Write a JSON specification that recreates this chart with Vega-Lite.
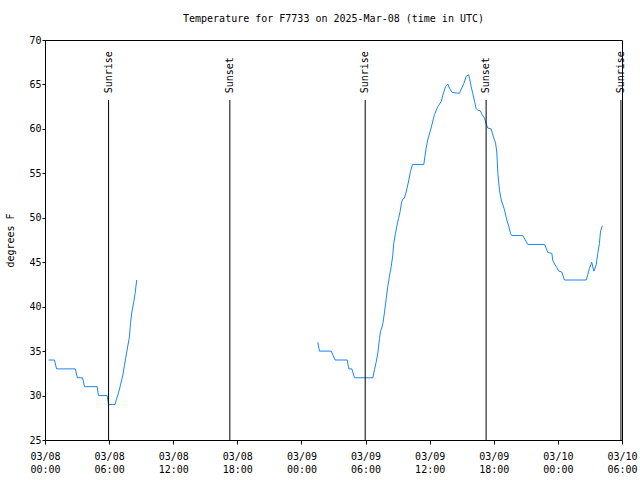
{
  "$schema": "https://vega.github.io/schema/vega-lite/v6.json",
  "width": 577,
  "height": 400,
  "autosize": {"type": "none"},
  "padding": {"left": 45, "top": 40, "right": 18, "bottom": 40},
  "title": {"text": "Temperature for F7733 on 2025-Mar-08 (time in UTC)", "font": "DejaVu Sans Mono", "fontSize": 10, "fontWeight": "normal", "color": "black", "anchor": "middle", "offset": 11},
  "config": {
    "view": {"stroke": "black", "strokeWidth": 1},
    "axis": {"labelFont": "DejaVu Sans Mono", "labelFontSize": 10, "labelColor": "black", "tickColor": "black", "domain": false, "grid": false, "titleFont": "DejaVu Sans Mono", "titleFontWeight": "normal", "titleFontSize": 10, "titleColor": "black", "labelFlush": false, "labelOverlap": false}
  },
  "layer": [
    {
      "data": {"values": [
      {"t": "2025-03-08T00:20:00Z", "temp": 34, "seg": "a"},
      {"t": "2025-03-08T00:53:00Z", "temp": 34, "seg": "a"},
      {"t": "2025-03-08T01:05:00Z", "temp": 33, "seg": "a"},
      {"t": "2025-03-08T02:50:00Z", "temp": 33, "seg": "a"},
      {"t": "2025-03-08T03:02:00Z", "temp": 32, "seg": "a"},
      {"t": "2025-03-08T03:31:00Z", "temp": 32, "seg": "a"},
      {"t": "2025-03-08T03:42:00Z", "temp": 31, "seg": "a"},
      {"t": "2025-03-08T04:53:00Z", "temp": 31, "seg": "a"},
      {"t": "2025-03-08T05:00:00Z", "temp": 30, "seg": "a"},
      {"t": "2025-03-08T05:49:00Z", "temp": 30, "seg": "a"},
      {"t": "2025-03-08T05:57:00Z", "temp": 29, "seg": "a"},
      {"t": "2025-03-08T06:34:00Z", "temp": 29, "seg": "a"},
      {"t": "2025-03-08T06:40:00Z", "temp": 29.5, "seg": "a"},
      {"t": "2025-03-08T06:53:00Z", "temp": 30.3, "seg": "a"},
      {"t": "2025-03-08T07:04:00Z", "temp": 31.2, "seg": "a"},
      {"t": "2025-03-08T07:17:00Z", "temp": 32.3, "seg": "a"},
      {"t": "2025-03-08T07:26:00Z", "temp": 33.4, "seg": "a"},
      {"t": "2025-03-08T07:39:00Z", "temp": 34.9, "seg": "a"},
      {"t": "2025-03-08T07:54:00Z", "temp": 36.6, "seg": "a"},
      {"t": "2025-03-08T08:00:00Z", "temp": 38.1, "seg": "a"},
      {"t": "2025-03-08T08:07:00Z", "temp": 39.3, "seg": "a"},
      {"t": "2025-03-08T08:19:00Z", "temp": 40.6, "seg": "a"},
      {"t": "2025-03-08T08:26:00Z", "temp": 41.5, "seg": "a"},
      {"t": "2025-03-08T08:35:00Z", "temp": 43, "seg": "a"},
      {"t": "2025-03-09T01:32:00Z", "temp": 36, "seg": "b"},
      {"t": "2025-03-09T01:41:00Z", "temp": 35, "seg": "b"},
      {"t": "2025-03-09T02:47:00Z", "temp": 35, "seg": "b"},
      {"t": "2025-03-09T03:09:00Z", "temp": 34, "seg": "b"},
      {"t": "2025-03-09T04:17:00Z", "temp": 34, "seg": "b"},
      {"t": "2025-03-09T04:26:00Z", "temp": 33, "seg": "b"},
      {"t": "2025-03-09T04:43:00Z", "temp": 33, "seg": "b"},
      {"t": "2025-03-09T04:58:00Z", "temp": 32, "seg": "b"},
      {"t": "2025-03-09T06:41:00Z", "temp": 32, "seg": "b"},
      {"t": "2025-03-09T06:50:00Z", "temp": 32.9, "seg": "b"},
      {"t": "2025-03-09T07:00:00Z", "temp": 33.8, "seg": "b"},
      {"t": "2025-03-09T07:09:00Z", "temp": 34.8, "seg": "b"},
      {"t": "2025-03-09T07:18:00Z", "temp": 36.4, "seg": "b"},
      {"t": "2025-03-09T07:24:00Z", "temp": 37.2, "seg": "b"},
      {"t": "2025-03-09T07:31:00Z", "temp": 37.6, "seg": "b"},
      {"t": "2025-03-09T07:37:00Z", "temp": 38.1, "seg": "b"},
      {"t": "2025-03-09T07:46:00Z", "temp": 39.3, "seg": "b"},
      {"t": "2025-03-09T07:56:00Z", "temp": 40.9, "seg": "b"},
      {"t": "2025-03-09T08:05:00Z", "temp": 42.3, "seg": "b"},
      {"t": "2025-03-09T08:14:00Z", "temp": 43.4, "seg": "b"},
      {"t": "2025-03-09T08:24:00Z", "temp": 44.5, "seg": "b"},
      {"t": "2025-03-09T08:33:00Z", "temp": 45.8, "seg": "b"},
      {"t": "2025-03-09T08:38:00Z", "temp": 47.1, "seg": "b"},
      {"t": "2025-03-09T08:48:00Z", "temp": 48.25, "seg": "b"},
      {"t": "2025-03-09T08:55:00Z", "temp": 49, "seg": "b"},
      {"t": "2025-03-09T09:05:00Z", "temp": 49.9, "seg": "b"},
      {"t": "2025-03-09T09:14:00Z", "temp": 50.7, "seg": "b"},
      {"t": "2025-03-09T09:23:00Z", "temp": 51.8, "seg": "b"},
      {"t": "2025-03-09T09:29:00Z", "temp": 52.1, "seg": "b"},
      {"t": "2025-03-09T09:38:00Z", "temp": 52.2, "seg": "b"},
      {"t": "2025-03-09T09:48:00Z", "temp": 52.9, "seg": "b"},
      {"t": "2025-03-09T09:57:00Z", "temp": 53.7, "seg": "b"},
      {"t": "2025-03-09T10:03:00Z", "temp": 54.25, "seg": "b"},
      {"t": "2025-03-09T10:12:00Z", "temp": 55.2, "seg": "b"},
      {"t": "2025-03-09T10:24:00Z", "temp": 56, "seg": "b"},
      {"t": "2025-03-09T11:27:00Z", "temp": 56, "seg": "b"},
      {"t": "2025-03-09T11:40:00Z", "temp": 57.8, "seg": "b"},
      {"t": "2025-03-09T11:49:00Z", "temp": 58.75, "seg": "b"},
      {"t": "2025-03-09T12:08:00Z", "temp": 60.1, "seg": "b"},
      {"t": "2025-03-09T12:27:00Z", "temp": 61.6, "seg": "b"},
      {"t": "2025-03-09T12:37:00Z", "temp": 62.1, "seg": "b"},
      {"t": "2025-03-09T12:46:00Z", "temp": 62.5, "seg": "b"},
      {"t": "2025-03-09T13:05:00Z", "temp": 63.1, "seg": "b"},
      {"t": "2025-03-09T13:14:00Z", "temp": 63.8, "seg": "b"},
      {"t": "2025-03-09T13:29:00Z", "temp": 64.75, "seg": "b"},
      {"t": "2025-03-09T13:42:00Z", "temp": 65.05, "seg": "b"},
      {"t": "2025-03-09T13:51:00Z", "temp": 64.6, "seg": "b"},
      {"t": "2025-03-09T14:06:00Z", "temp": 64.1, "seg": "b"},
      {"t": "2025-03-09T14:47:00Z", "temp": 64, "seg": "b"},
      {"t": "2025-03-09T15:00:00Z", "temp": 64.6, "seg": "b"},
      {"t": "2025-03-09T15:12:00Z", "temp": 65.1, "seg": "b"},
      {"t": "2025-03-09T15:25:00Z", "temp": 65.9, "seg": "b"},
      {"t": "2025-03-09T15:38:00Z", "temp": 66.1, "seg": "b"},
      {"t": "2025-03-09T15:44:00Z", "temp": 65.7, "seg": "b"},
      {"t": "2025-03-09T15:53:00Z", "temp": 64.75, "seg": "b"},
      {"t": "2025-03-09T16:02:00Z", "temp": 64, "seg": "b"},
      {"t": "2025-03-09T16:12:00Z", "temp": 63.1, "seg": "b"},
      {"t": "2025-03-09T16:21:00Z", "temp": 62.3, "seg": "b"},
      {"t": "2025-03-09T16:30:00Z", "temp": 62.1, "seg": "b"},
      {"t": "2025-03-09T16:44:00Z", "temp": 62.05, "seg": "b"},
      {"t": "2025-03-09T16:55:00Z", "temp": 61.6, "seg": "b"},
      {"t": "2025-03-09T17:08:00Z", "temp": 61.2, "seg": "b"},
      {"t": "2025-03-09T17:17:00Z", "temp": 60.6, "seg": "b"},
      {"t": "2025-03-09T17:26:00Z", "temp": 60.1, "seg": "b"},
      {"t": "2025-03-09T17:45:00Z", "temp": 60, "seg": "b"},
      {"t": "2025-03-09T17:58:00Z", "temp": 59.1, "seg": "b"},
      {"t": "2025-03-09T18:10:00Z", "temp": 58.4, "seg": "b"},
      {"t": "2025-03-09T18:17:00Z", "temp": 57.4, "seg": "b"},
      {"t": "2025-03-09T18:23:00Z", "temp": 55, "seg": "b"},
      {"t": "2025-03-09T18:32:00Z", "temp": 53.1, "seg": "b"},
      {"t": "2025-03-09T18:42:00Z", "temp": 52, "seg": "b"},
      {"t": "2025-03-09T19:00:00Z", "temp": 50.9, "seg": "b"},
      {"t": "2025-03-09T19:13:00Z", "temp": 49.75, "seg": "b"},
      {"t": "2025-03-09T19:25:00Z", "temp": 49, "seg": "b"},
      {"t": "2025-03-09T19:34:00Z", "temp": 48.25, "seg": "b"},
      {"t": "2025-03-09T19:41:00Z", "temp": 48, "seg": "b"},
      {"t": "2025-03-09T20:43:00Z", "temp": 48, "seg": "b"},
      {"t": "2025-03-09T21:11:00Z", "temp": 47, "seg": "b"},
      {"t": "2025-03-09T22:45:00Z", "temp": 47, "seg": "b"},
      {"t": "2025-03-09T22:54:00Z", "temp": 46.6, "seg": "b"},
      {"t": "2025-03-09T23:03:00Z", "temp": 46.1, "seg": "b"},
      {"t": "2025-03-09T23:26:00Z", "temp": 46, "seg": "b"},
      {"t": "2025-03-09T23:31:00Z", "temp": 45.25, "seg": "b"},
      {"t": "2025-03-09T23:41:00Z", "temp": 44.8, "seg": "b"},
      {"t": "2025-03-09T23:54:00Z", "temp": 44.4, "seg": "b"},
      {"t": "2025-03-10T00:05:00Z", "temp": 44, "seg": "b"},
      {"t": "2025-03-10T00:22:00Z", "temp": 43.9, "seg": "b"},
      {"t": "2025-03-10T00:37:00Z", "temp": 43, "seg": "b"},
      {"t": "2025-03-10T02:39:00Z", "temp": 43, "seg": "b"},
      {"t": "2025-03-10T02:48:00Z", "temp": 43.6, "seg": "b"},
      {"t": "2025-03-10T02:57:00Z", "temp": 44.3, "seg": "b"},
      {"t": "2025-03-10T03:10:00Z", "temp": 45, "seg": "b"},
      {"t": "2025-03-10T03:22:00Z", "temp": 44, "seg": "b"},
      {"t": "2025-03-10T03:35:00Z", "temp": 44.7, "seg": "b"},
      {"t": "2025-03-10T03:44:00Z", "temp": 46, "seg": "b"},
      {"t": "2025-03-10T03:53:00Z", "temp": 47.1, "seg": "b"},
      {"t": "2025-03-10T03:59:00Z", "temp": 48.4, "seg": "b"},
      {"t": "2025-03-10T04:09:00Z", "temp": 49.1, "seg": "b"}
      ]},
      "mark": {"type": "line", "strokeWidth": 1, "color": "#1C86EE"},
      "encoding": {
        "x": {
          "field": "t", "type": "temporal",
          "scale": {"type": "utc", "domain": [1741392000000, 1741586400000]},
          "axis": {
            "orient": "bottom", "title": null,
            "values": [1741392000000, 1741413600000, 1741435200000, 1741456800000, 1741478400000, 1741500000000, 1741521600000, 1741543200000, 1741564800000, 1741586400000],
            "labelExpr": "[utcFormat(datum.value, '%m/%d'), utcFormat(datum.value, '%H:%M')]",
            "labelLineHeight": 13, "labelPadding": 7, "tickSize": 4, "labelAlign": "center"
          }
        },
        "y": {
          "field": "temp", "type": "quantitative",
          "scale": {"domain": [25, 70]},
          "axis": {"orient": "left", "title": "degrees F", "values": [25, 30, 35, 40, 45, 50, 55, 60, 65, 70], "tickSize": 3, "labelPadding": 1, "titlePadding": 13}
        },
        "detail": {"field": "seg", "type": "nominal"}
      }
    },
    {
      "data": {"values": [
        {"t": "2025-03-08T05:57:00Z", "label": "Sunrise", "lo": 25, "hi": 63.25, "top": 64},
        {"t": "2025-03-08T17:18:00Z", "label": "Sunset", "lo": 25, "hi": 63.25, "top": 64},
        {"t": "2025-03-09T05:58:00Z", "label": "Sunrise", "lo": 25, "hi": 63.25, "top": 64},
        {"t": "2025-03-09T17:17:00Z", "label": "Sunset", "lo": 25, "hi": 63.25, "top": 64},
        {"t": "2025-03-10T05:54:00Z", "label": "Sunrise", "lo": 25, "hi": 63.25, "top": 64}
      ]},
      "layer": [
        {
          "mark": {"type": "rule", "color": "black", "strokeWidth": 1},
          "encoding": {
            "x": {"field": "t", "type": "temporal"},
            "y": {"field": "lo", "type": "quantitative"},
            "y2": {"field": "hi"}
          }
        },
        {
          "mark": {"type": "text", "angle": 270, "align": "left", "baseline": "middle", "font": "DejaVu Sans Mono", "fontSize": 10, "color": "black"},
          "encoding": {
            "x": {"field": "t", "type": "temporal"},
            "y": {"field": "top", "type": "quantitative"},
            "text": {"field": "label", "type": "nominal"}
          }
        }
      ]
    }
  ]
}
